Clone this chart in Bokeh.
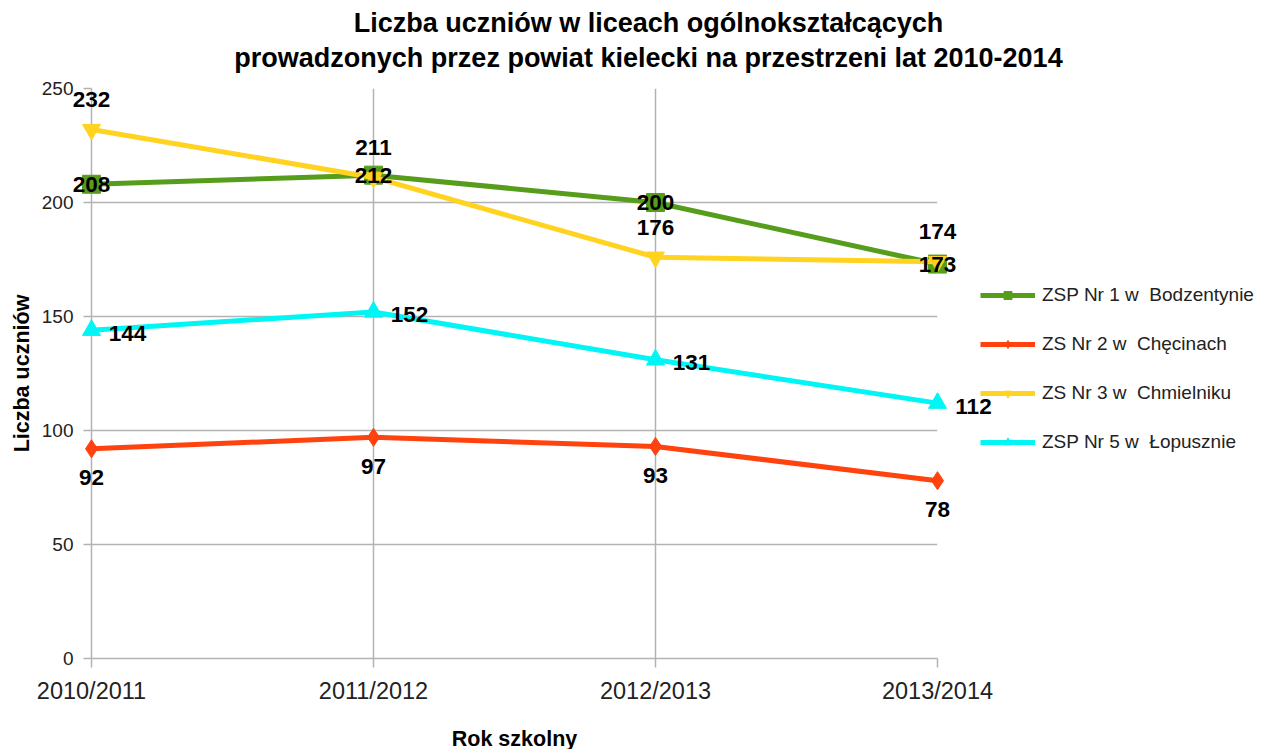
from bokeh.plotting import figure
from bokeh.models import (ColumnDataSource, LabelSet, Label, Legend, LegendItem,
                          FixedTicker, Range1d, GridBox, Column)
from bokeh.core.properties import value
from bokeh.embed import file_html
from bokeh.resources import INLINE

categories = ["2010/2011", "2011/2012", "2012/2013", "2013/2014"]
zsp1 = [208, 212, 200, 173]
zs2 = [92, 97, 93, 78]
zs3 = [232, 211, 176, 174]
zsp5 = [144, 152, 131, 112]
names = ["ZSP Nr 1 w  Bodzentynie", "ZS Nr 2 w  Chęcinach",
         "ZS Nr 3 w  Chmielniku", "ZSP Nr 5 w  Łopusznie"]
y_ticks = [0, 50, 100, 150, 200, 250]
title_lines = ["Liczba uczniów w liceach ogólnokształcących",
               "prowadzonych przez powiat kielecki na przestrzeni lat 2010-2014"]

FONT = "Liberation Sans"
xs = list(range(len(categories)))

# layout (pixels)
W, H = 1262, 749
LEFT, TOP, FW, FH = 91, 88, 846, 570
X0, X1 = 0, len(categories) - 1
Y0, Y1 = 0, 250
kx = FW / (X1 - X0)
ky = FH / (Y1 - Y0)

# ---------- base figure: axes and grid ----------
p = figure(width=W, height=H, output_backend="svg", toolbar_location=None,
           x_range=Range1d(X0, X1), y_range=Range1d(Y0, Y1),
           min_border_left=LEFT, min_border_right=W - LEFT - FW,
           min_border_top=TOP, min_border_bottom=H - TOP - FH)
p.frame_width = FW
p.frame_height = FH
p.outline_line_color = None
p.background_fill_color = "white"

p.xaxis.ticker = FixedTicker(ticks=xs)
p.xaxis.major_label_overrides = {i: c for i, c in enumerate(categories)}
p.yaxis.ticker = FixedTicker(ticks=y_ticks)
p.xgrid.ticker = FixedTicker(ticks=xs)
p.ygrid.ticker = FixedTicker(ticks=y_ticks)
for g in (p.xgrid, p.ygrid):
    g.grid_line_color = "#b3b3b3"
    g.grid_line_width = 1.5

for ax in (p.xaxis, p.yaxis):
    ax.axis_line_color = "#b3b3b3"
    ax.axis_line_width = 1.5
    ax.major_tick_line_color = "#b3b3b3"
    ax.major_tick_line_width = 1.5
    ax.minor_tick_line_color = None
    ax.major_label_text_font = FONT
    ax.major_label_text_color = "#222222"
    ax.axis_label_text_font = FONT
    ax.axis_label_text_font_size = "21.5px"
    ax.axis_label_text_font_style = "bold"
    ax.axis_label_text_color = "#000000"

p.xaxis.major_label_text_font_size = "23.5px"
p.yaxis.major_label_text_font_size = "19px"
p.xaxis.major_tick_in = 0
p.xaxis.major_tick_out = 9
p.xaxis.major_label_standoff = 10
p.xaxis.axis_label = "Rok szkolny"
p.xaxis.axis_label_standoff = 20
p.yaxis.major_tick_in = 0
p.yaxis.major_tick_out = 8
p.yaxis.major_label_standoff = 10
p.yaxis.axis_label = "Liczba uczniów"
p.yaxis.axis_label_standoff = 5

# ---------- overlay figure: series, labels, legend, title (no clipping) ----------
q = figure(width=W, height=H, output_backend="svg", toolbar_location=None,
           x_axis_type=None, y_axis_type=None,
           x_range=Range1d(X0 - LEFT / kx, X1 + (W - LEFT - FW) / kx),
           y_range=Range1d(Y0 - (H - TOP - FH) / ky, Y1 + TOP / ky),
           min_border=0)
q.background_fill_color = None
q.border_fill_color = None
q.outline_line_color = None
q.grid.visible = False

series = [
    (zsp1, "#579d1c", "square", 0, 0),
    (zs2, "#ff420e", "diamond", 0, -29),
    (zs3, "#ffd320", "inverted_triangle", 0, 30),
    (zsp5, "#00f5f5", "triangle", 36, -3),
]

items = []
label_specs = []
for (vals, color, marker, xo, yo), name in zip(series, names):
    src = ColumnDataSource(dict(x=xs, y=vals, t=[str(v) for v in vals]))
    r1 = q.line("x", "y", source=src, line_color=color, line_width=5)
    r2 = q.scatter("x", "y", source=src, marker=marker, size=18,
                   fill_color=color, line_color=color)
    items.append(LegendItem(label=name, renderers=[r1, r2]))
    label_specs.append((src, xo, yo))

for src, xo, yo in label_specs:
    q.add_layout(LabelSet(x="x", y="y", text="t", source=src,
                          x_offset=xo, y_offset=yo,
                          text_align="center", text_baseline="middle",
                          text_font=value(FONT), text_font_size="22.5px",
                          text_font_style="bold", text_color="#000000"))

legend = Legend(items=items, location=(980, 296), orientation="vertical",
                label_text_font=FONT, label_text_font_size="19px",
                label_text_color="#222222", glyph_width=55, glyph_height=20,
                spacing=27, label_standoff=7, border_line_color=None,
                background_fill_alpha=0, padding=0, margin=0)
q.add_layout(legend)

def px_x(px):
    return X0 + (px - LEFT) / kx

def px_y(py):
    return Y0 + (TOP + FH - py) / ky

for t, cy in zip(title_lines, [22, 57]):
    q.add_layout(Label(x=px_x(648), y=px_y(cy), text=t,
                       text_align="center", text_baseline="middle",
                       text_font=FONT, text_font_size="27px",
                       text_font_style="bold", text_color="#000000"))

layout = GridBox(children=[(Column(children=[p]), 0, 0),
                           (Column(children=[q]), 0, 0)])
open("out.html", "w").write(file_html(layout, INLINE))
